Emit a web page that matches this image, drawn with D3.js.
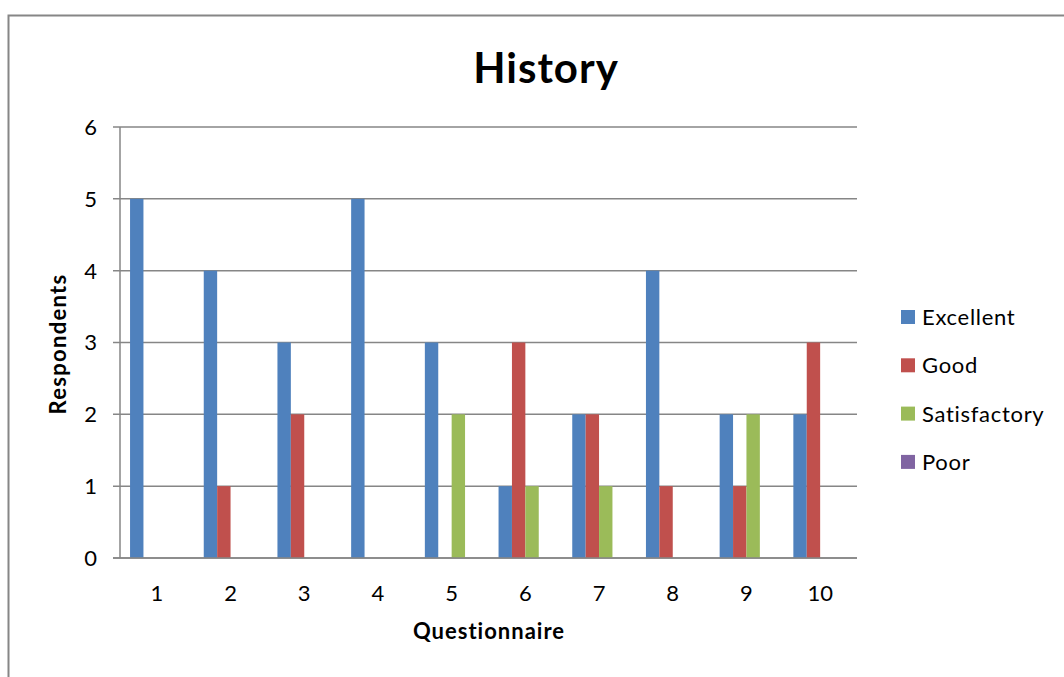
<!DOCTYPE html>
<html><head><meta charset="utf-8">
<script src="https://cdn.jsdelivr.net/npm/d3@7"></script>
<style>body{margin:0;background:#fff}svg{display:block}text{font-family:Lato,"Open Sans",sans-serif}</style>
</head><body>
<svg id="c" width="1064" height="677"></svg>
<script>
const categories = ["1","2","3","4","5","6","7","8","9","10"];
const seriesNames = ["Excellent","Good","Satisfactory","Poor"];
const excellent = [5,4,3,5,3,1,2,4,2,2];
const good = [0,1,2,0,0,3,2,1,1,3];
const satisfactory = [0,0,0,0,2,1,1,0,2,0];
const poor = [0,0,0,0,0,0,0,0,0,0];
const yTicks = [0,1,2,3,4,5,6];
const colors = ["#4F81BD","#C0504D","#9BBB59","#8064A2"];
const values = [excellent, good, satisfactory, poor];

const svg = d3.select("#c");
// outer frame
svg.append("rect").attr("x",8.5).attr("y",15.5).attr("width",1070).attr("height",680)
  .attr("fill","none").attr("stroke","#868686").attr("stroke-width",2);

const L=120, R=857, T=127, B=558;
const x = d3.scaleBand().domain(categories).range([L,R]).paddingInner(1.5/5.5).paddingOuter(0.75/5.5);
const xs = d3.scaleBand().domain(seriesNames).range([0,x.bandwidth()]);
const y = d3.scaleLinear().domain([0,6]).range([B,T]);

// gridlines
svg.append("g").selectAll("line").data(yTicks).join("line")
  .attr("x1",L-7).attr("x2",R).attr("y1",d=>y(d)).attr("y2",d=>y(d))
  .attr("stroke","#868686").attr("stroke-width",1.5);
svg.append("line").attr("x1",L).attr("x2",L).attr("y1",T).attr("y2",B)
  .attr("stroke","#868686").attr("stroke-width",1.5);

// bars
const g = svg.append("g");
seriesNames.forEach((s,i)=>{
  g.selectAll(null).data(values[i].map((v,j)=>({c:categories[j],v}))).join("rect")
    .attr("x",d=>x(d.c)+xs(s)).attr("width",xs.bandwidth())
    .attr("y",d=>y(d.v)).attr("height",d=>y(0)-y(d.v))
    .attr("fill",colors[i]);
});
// redraw zero line on top
svg.append("line").attr("x1",L-7).attr("x2",R).attr("y1",y(0)).attr("y2",y(0))
  .attr("stroke","#868686").attr("stroke-width",1.5);

// y labels
svg.append("g").selectAll("text").data(yTicks).join("text")
  .attr("x",97).attr("y",d=>y(d)).attr("dy","0.36em").attr("text-anchor","end")
  .attr("font-size",22).attr("fill","#000").text(d=>d);
// x labels
svg.append("g").selectAll("text").data(categories).join("text")
  .attr("x",d=>x(d)+x.bandwidth()/2).attr("y",601).attr("text-anchor","middle")
  .attr("font-size",22).attr("fill","#000").text(d=>d);

// titles
svg.append("text").attr("x",546).attr("y",83).attr("text-anchor","middle")
  .attr("font-size",42).attr("font-weight","bold").attr("letter-spacing",1).text("History");
svg.append("text").attr("x",489).attr("y",639).attr("text-anchor","middle")
  .attr("font-size",22).attr("font-weight","bold").attr("letter-spacing",1).text("Questionnaire");
svg.append("text").attr("transform","translate(66,344) rotate(-90)").attr("text-anchor","middle")
  .attr("font-size",22).attr("font-weight","bold").attr("letter-spacing",1.3).text("Respondents");

// legend
const lg = svg.append("g");
seriesNames.forEach((s,i)=>{
  const cy = 317 + i*48.3;
  lg.append("rect").attr("x",901).attr("y",cy-7).attr("width",14).attr("height",14).attr("fill",colors[i]);
  lg.append("text").attr("x",922).attr("y",cy).attr("dy","0.36em").attr("font-size",22)
    .attr("letter-spacing",0.7).text(s);
});
</script>
</body></html>
